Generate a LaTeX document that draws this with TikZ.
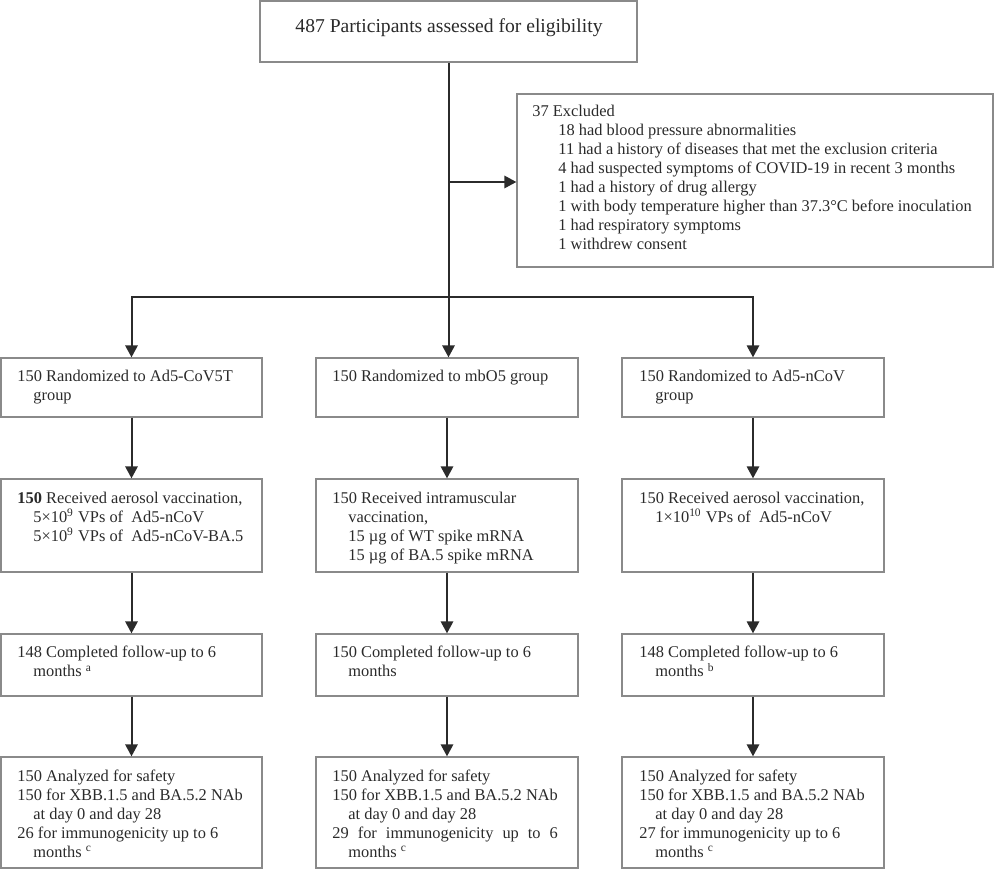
\documentclass[tikz,border=0pt]{standalone}
\usepackage{fontspec}
\setmainfont{Liberation Serif}
\usepackage{calc}
\usetikzlibrary{arrows.meta,fit}
\definecolor{boxline}{HTML}{8A8A8A}
\definecolor{arrline}{HTML}{2B2B2B}
\definecolor{txtc}{HTML}{2A2A2A}
\begin{document}
\begin{tikzpicture}[x=0.5pt,y=-0.5pt,
  box/.style={draw=boxline, line width=0.65pt, inner sep=0pt, rectangle},
  txt/.style={anchor=north west, inner sep=0pt, align=left, text=txtc,
              font=\fontsize{8.2}{9.4}\selectfont},
  ln/.style={draw=arrline, line width=1pt},
  arr/.style={draw=arrline, line width=1pt, -{Triangle[width=6.2pt,length=6pt]}}]
\useasboundingbox (0,0) rectangle (1000,870);

% boxes
\node[box, fit={(260,1) (637,62)}] (top) {};
\node[box, fit={(517,94) (993,267)}] (excl) {};
\node[box, fit={(1,358) (262,417)}] (r1c1) {};
\node[box, fit={(316,358) (578,417)}] (r1c2) {};
\node[box, fit={(622,358) (884,417)}] (r1c3) {};
\node[box, fit={(1,479) (262,572)}] (r2c1) {};
\node[box, fit={(316,479) (578,572)}] (r2c2) {};
\node[box, fit={(622,479) (884,572)}] (r2c3) {};
\node[box, fit={(1,634) (262,696)}] (r3c1) {};
\node[box, fit={(316,634) (578,696)}] (r3c2) {};
\node[box, fit={(622,634) (884,696)}] (r3c3) {};
\node[box, fit={(1,757) (262,868)}] (r4c1) {};
\node[box, fit={(316,757) (578,868)}] (r4c2) {};
\node[box, fit={(622,757) (884,868)}] (r4c3) {};

% texts
\node[anchor=base, inner sep=0pt, text=txtc, font=\fontsize{9.8}{11.5}\selectfont] (ttop) at (449,33) {487 Participants assessed for eligibility};

\node[txt, font=\fontsize{8.2}{9.5}\selectfont] (texcl) at (532,105) {37 Excluded\\
\hspace*{13pt}18 had blood pressure abnormalities\\
\hspace*{13pt}11 had a history of diseases that met the exclusion criteria\\
\hspace*{13pt}4 had suspected symptoms of COVID-19 in recent 3 months\\
\hspace*{13pt}1 had a history of drug allergy\\
\hspace*{13pt}1 with body temperature higher than 37.3°C before inoculation\\
\hspace*{13pt}1 had respiratory symptoms\\
\hspace*{13pt}1 withdrew consent};

\node[txt] (t11) at (17,370) {150 Randomized to Ad5-CoV5T\\ \hspace*{8pt}group};
\node[txt] (t12) at (332,370) {150 Randomized to mbO5 group};
\node[txt] (t13) at (639,370) {150 Randomized to Ad5-nCoV\\ \hspace*{8pt}group};

\node[txt] (t21) at (17,492) {{\bfseries 150} Received aerosol vaccination,\\
\hspace*{8pt}5×10\textsuperscript{9} VPs of\ \ Ad5-nCoV\\
\hspace*{8pt}5×10\textsuperscript{9} VPs of\ \ Ad5-nCoV-BA.5};
\node[txt] (t22) at (332,492) {150 Received intramuscular\\
\hspace*{8pt}vaccination,\\
\hspace*{8pt}15 µg of WT spike mRNA\\
\hspace*{8pt}15 µg of BA.5 spike mRNA};
\node[txt] (t23) at (639,492) {150 Received aerosol vaccination,\\
\hspace*{8pt}1×10\textsuperscript{10} VPs of\ \ Ad5-nCoV};

\node[txt] (t31) at (17,646) {148 Completed follow-up to 6\\ \hspace*{8pt}months \textsuperscript{a}};
\node[txt] (t32) at (332,646) {150 Completed follow-up to 6\\ \hspace*{8pt}months};
\node[txt] (t33) at (639,646) {148 Completed follow-up to 6\\ \hspace*{8pt}months \textsuperscript{b}};

\node[txt] (t41) at (17,770) {150 Analyzed for safety\\
150 for XBB.1.5 and BA.5.2 NAb\\
\hspace*{8pt}at day 0 and day 28\\
26 for immunogenicity up to 6\\
\hspace*{8pt}months \textsuperscript{c}};
\node[txt] (t42) at (332,770) {150 Analyzed for safety\\
150 for XBB.1.5 and BA.5.2 NAb\\
\hspace*{8pt}at day 0 and day 28\\
\makebox[\widthof{150 for XBB.1.5 and BA.5.2 NAb}][s]{29 for immunogenicity up to 6}\\
\hspace*{8pt}months \textsuperscript{c}};
\node[txt] (t43) at (639,770) {150 Analyzed for safety\\
150 for XBB.1.5 and BA.5.2 NAb\\
\hspace*{8pt}at day 0 and day 28\\
27 for immunogenicity up to 6\\
\hspace*{8pt}months \textsuperscript{c}};

% connectors
\coordinate (bus) at (448.5,297);
\coordinate (br) at (448.5,182);
\draw[ln] (top.south -| bus) -- (bus);
\draw[arr] (br) -- (excl.west |- br);
\draw[arr] (bus) -| (r1c1.north);
\draw[arr] (bus) -| (r1c3.north);
\draw[arr] (bus) -- (bus |- r1c2.north);
\foreach \c in {1,2,3}{
  \draw[arr] (r1c\c.south) -- (r2c\c.north);
  \draw[arr] (r2c\c.south) -- (r3c\c.north);
  \draw[arr] (r3c\c.south) -- (r4c\c.north);
}
\end{tikzpicture}
\end{document}
